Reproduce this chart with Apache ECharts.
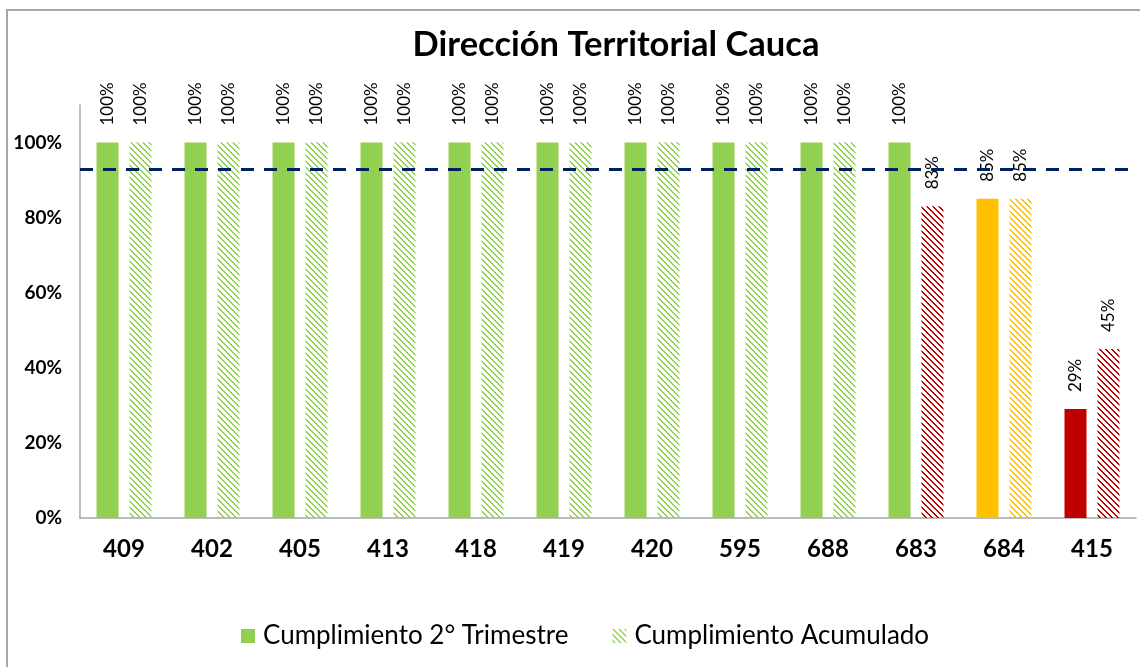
<!DOCTYPE html>
<html>
<head>
<meta charset="utf-8">
<script src="https://cdn.jsdelivr.net/npm/echarts@6/dist/echarts.min.js"></script>
<style>
  html, body { margin: 0; padding: 0; background: #fff; }
  #chart { width: 1140px; height: 667px; }
</style>
</head>
<body>
<div id="chart"></div>
<script>
// datos del gráfico
const categorias = ['409', '402', '405', '413', '418', '419', '420', '595', '688', '683', '684', '415'];
const trimestre = [100, 100, 100, 100, 100, 100, 100, 100, 100, 100, 85, 29];
const acumulado = [100, 100, 100, 100, 100, 100, 100, 100, 100, 83, 85, 45];
const meta = 93;
const yTicks = [0, 20, 40, 60, 80, 100];

// color segun cumplimiento
function colorPara(v) {
  if (v >= meta) return '#92D050';
  if (v >= 85) return '#FFC000';
  return '#C00000';
}

// trama diagonal para el acumulado
function trama(color) {
  const c = document.createElement('canvas');
  c.width = 6;
  c.height = 6;
  const ctx = c.getContext('2d');
  ctx.fillStyle = color;
  for (let i = 0; i < 6; i++) {
    ctx.fillRect(i, i, 1, 1);
    ctx.fillRect((i + 1) % 6, i, 1, 1);
  }
  return { image: c, repeat: 'repeat' };
}

const fuente = 'Lato, "Open Sans", sans-serif';

const etiqueta = {
  show: true,
  position: 'top',
  rotate: 90,
  align: 'left',
  verticalAlign: 'middle',
  distance: 17,
  fontFamily: fuente,
  fontSize: 17,
  color: '#000',
  formatter: '{c}%'
};

const myChart = echarts.init(document.getElementById('chart'));

const option = {
  backgroundColor: '#fff',
  animation: false,
  graphic: [{
    type: 'rect',
    shape: { x: 7, y: 10, width: 1200, height: 700 },
    style: { fill: 'none', stroke: '#a6a6a6', lineWidth: 2 },
    silent: true
  }],
  title: {
    text: 'Dirección Territorial Cauca',
    left: 611,
    top: 22,
    textAlign: 'center',
    textStyle: { fontFamily: fuente, fontSize: 34.5, fontWeight: 'bold', color: '#000' }
  },
  legend: {
    left: 236,
    top: 618,
    itemWidth: 14,
    itemHeight: 14,
    itemGap: 44,
    icon: 'rect',
    textStyle: { fontFamily: fuente, fontSize: 26, color: '#000', padding: [0, 0, 0, 3] },
    data: ['Cumplimiento 2° Trimestre', 'Cumplimiento Acumulado']
  },
  grid: { left: 80, right: 4, top: 105, bottom: 149 },
  xAxis: {
    type: 'category',
    data: categorias,
    axisLine: { lineStyle: { color: '#a6a6a6', width: 1.5 } },
    axisTick: { show: false },
    axisLabel: { fontFamily: fuente, fontSize: 24, fontWeight: 'bold', color: '#000', margin: 19 }
  },
  yAxis: {
    type: 'value',
    min: 0,
    max: 110,
    interval: 20,
    axisLine: { show: true, lineStyle: { color: '#a6a6a6', width: 1.5 } },
    axisTick: { show: false },
    splitLine: { show: false },
    axisLabel: {
      fontFamily: fuente,
      fontSize: 19,
      fontWeight: 'bold',
      color: '#000',
      margin: 18,
      showMaxLabel: false,
      formatter: function (v) { return yTicks.indexOf(v) >= 0 ? v + '%' : ''; }
    }
  },
  series: [
    {
      name: 'Cumplimiento 2° Trimestre',
      type: 'bar',
      barWidth: 22,
      barGap: '50%',
      itemStyle: { color: '#92D050' },
      label: etiqueta,
      data: trimestre.map(v => ({ value: v, itemStyle: { color: colorPara(v) } })),
      markLine: {
        silent: true,
        symbol: 'none',
        label: { show: false },
        lineStyle: { color: '#002060', width: 3, type: [13, 10] },
        data: [{ yAxis: meta }]
      }
    },
    {
      name: 'Cumplimiento Acumulado',
      type: 'bar',
      barWidth: 22,
      itemStyle: { color: trama('#92D050') },
      label: etiqueta,
      data: acumulado.map(v => ({ value: v, itemStyle: { color: trama(colorPara(v)) } }))
    }
  ]
};

myChart.setOption(option);
window.addEventListener('resize', function () {
  myChart.resize();
});
</script>
</body>
</html>
